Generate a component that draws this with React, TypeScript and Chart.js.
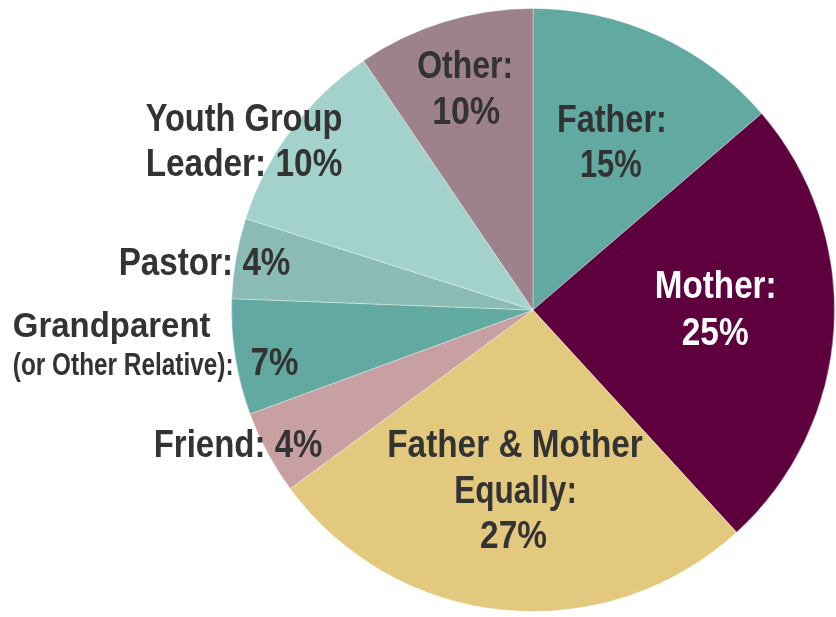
import React, { useEffect, useRef } from "react";
import { Chart, registerables } from "chart.js";

Chart.register(...registerables);

const categories = [
  "Father",
  "Mother",
  "Father & Mother Equally",
  "Friend",
  "Grandparent (or Other Relative)",
  "Pastor",
  "Youth Group Leader",
  "Other",
];
// slice sizes (percent of the circle)
const sliceValues = [13.7, 24.5, 26.7, 4.5, 6.2, 4.3, 10.6, 9.5];
// percentages printed on the chart
const printedPercents = ["15%", "25%", "27%", "4%", "7%", "4%", "10%", "10%"];
const sliceColors = [
  "#62aaa1",
  "#5d003d",
  "#e2c97e",
  "#c9a0a1",
  "#62aaa1",
  "#8bbbb5",
  "#a3d2cc",
  "#9d818c",
];

const FONT = "'Liberation Sans', Arial, 'DejaVu Sans', sans-serif";
const DARK = "#333333";

// dx = left edge, dy = baseline, relative to pie centre (px at 302px radius); w = target width
type Line = { text: string; size: number; dx: number; dy: number; w: number; color?: string };

const labelLayout: Line[][] = [
  [
    { text: "Father:", size: 38, dx: 24, dy: -178, w: 110 },
    { text: printedPercents[0], size: 38, dx: 47, dy: -133, w: 62 },
  ],
  [
    { text: "Mother:", size: 38, dx: 122, dy: -12, w: 122, color: "#ffffff" },
    { text: printedPercents[1], size: 38, dx: 149, dy: 35, w: 67, color: "#ffffff" },
  ],
  [
    { text: "Father & Mother", size: 38, dx: -146, dy: 147, w: 256 },
    { text: "Equally:", size: 38, dx: -79, dy: 193, w: 123 },
    { text: printedPercents[2], size: 38, dx: -53, dy: 238, w: 67 },
  ],
  [{ text: "Friend: " + printedPercents[3], size: 38, dx: -380, dy: 147, w: 169 }],
  [
    { text: "Grandparent", size: 35, dx: -521, dy: 27, w: 198 },
    { text: "(or Other Relative):", size: 32, dx: -521, dy: 65, w: 221 },
    { text: printedPercents[4], size: 39, dx: -283, dy: 65, w: 48 },
  ],
  [{ text: "Pastor: " + printedPercents[5], size: 38, dx: -415, dy: -35, w: 172 }],
  [
    { text: "Youth Group", size: 38, dx: -388, dy: -179, w: 197 },
    { text: "Leader: " + printedPercents[6], size: 38, dx: -388, dy: -134, w: 197 },
  ],
  [
    { text: "Other:", size: 38, dx: -116, dy: -232, w: 96 },
    { text: printedPercents[7], size: 38, dx: -101, dy: -186, w: 68 },
  ],
];

const labelPlugin = {
  id: "sliceLabels",
  afterDatasetsDraw(chart: any) {
    const meta = chart.getDatasetMeta(0);
    const arc = meta.data[0];
    if (!arc) return;
    const cx = arc.x;
    const cy = arc.y;
    const k = arc.outerRadius / 302;
    const ctx = chart.ctx;
    ctx.textAlign = "left";
    ctx.textBaseline = "alphabetic";
    labelLayout.forEach((lines) => {
      lines.forEach((l) => {
        ctx.save();
        ctx.font = `bold ${l.size * k}px ${FONT}`;
        ctx.fillStyle = l.color || DARK;
        const m = ctx.measureText(l.text).width || 1;
        const sx = (l.w * k) / m;
        ctx.translate(cx + l.dx * k, cy + l.dy * k);
        ctx.scale(sx, 1);
        ctx.fillText(l.text, 0, 0);
        ctx.restore();
      });
    });
  },
};

export default function App() {
  const ref = useRef<HTMLCanvasElement>(null);
  useEffect(() => {
    document.body.style.margin = "0";
    const chart = new Chart(ref.current!, {
      type: "pie",
      data: {
        labels: categories,
        datasets: [
          {
            data: sliceValues,
            backgroundColor: sliceColors,
            borderColor: "rgba(255,255,255,0.35)",
            borderWidth: 1,
          },
        ],
      },
      options: {
        responsive: false,
        animation: false,
        layout: { padding: { left: 231, right: 1, top: 8, bottom: 5 } },
        plugins: {
          legend: { display: false },
          tooltip: { enabled: false },
        },
      },
      plugins: [labelPlugin],
    });
    return () => chart.destroy();
  }, []);
  return (
    <div style={{ position: "fixed", left: 0, top: 0, width: 836, height: 617, background: "#fff" }}>
      <canvas ref={ref} width={836} height={617} />
    </div>
  );
}
